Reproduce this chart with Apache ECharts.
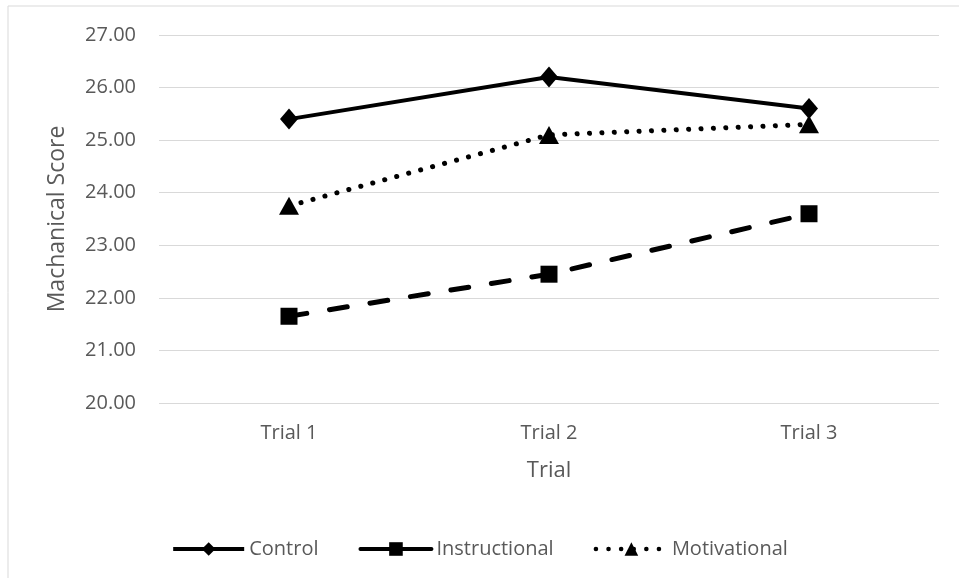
<!DOCTYPE html>
<html>
<head>
<meta charset="utf-8">
<script src="https://cdn.jsdelivr.net/npm/echarts@6/dist/echarts.min.js"></script>
<style>
  html, body { margin: 0; padding: 0; background: #fff; }
  #chart { width: 959px; height: 578px; }
</style>
</head>
<body>
<div id="chart"></div>
<script>
// data
const trials = ["Trial 1", "Trial 2", "Trial 3"];
const control = [25.4, 26.2, 25.6];
const instructional = [21.65, 22.45, 23.6];
const motivational = [23.75, 25.1, 25.3];

const txt = "#595959";
const font = "Open Sans";

const chart = echarts.init(document.getElementById("chart"));

const option = {
  animation: false,
  backgroundColor: "#fff",
  textStyle: { fontFamily: font, color: txt },
  graphic: [
    {
      type: "rect",
      shape: { x: 8, y: 6, width: 1000, height: 1000 },
      style: { fill: "none", stroke: "#d9d9d9", lineWidth: 1 },
      silent: true
    }
  ],
  grid: { left: 159, right: 20, top: 35, bottom: 175 },
  legend: {
    left: "center",
    top: 534,
    itemWidth: 71,
    itemHeight: 17,
    itemGap: 40,
    textStyle: { fontFamily: font, fontSize: 20, color: txt },
    lineStyle: { width: 4 },
    data: [
      { name: "Control", lineStyle: { type: "solid" } },
      { name: "Instructional", lineStyle: { type: "solid" } },
      { name: "Motivational", lineStyle: { type: [0.1, 12.5], cap: "round", width: 4.5 } }
    ]
  },
  xAxis: {
    type: "category",
    data: trials,
    boundaryGap: true,
    name: "Trial",
    nameLocation: "middle",
    nameGap: 57,
    nameTextStyle: { fontFamily: font, fontSize: 22, color: txt },
    axisLine: { show: false },
    axisTick: { show: false },
    axisLabel: { margin: 20, fontFamily: font, fontSize: 20, color: txt }
  },
  yAxis: {
    type: "value",
    min: 20,
    max: 27,
    interval: 1,
    name: "Machanical Score",
    nameLocation: "middle",
    nameGap: 90,
    nameTextStyle: { fontFamily: font, fontSize: 23, color: txt },
    axisLine: { show: false },
    axisTick: { show: false },
    axisLabel: {
      margin: 23,
      fontFamily: font,
      fontSize: 20,
      color: txt,
      formatter: v => v.toFixed(2)
    },
    splitLine: { lineStyle: { color: "#d9d9d9", width: 1.2 } }
  },
  series: [
    {
      name: "Control",
      type: "line",
      data: control,
      symbol: "diamond",
      symbolSize: [18, 21],
      itemStyle: { color: "#000" },
      lineStyle: { color: "#000", width: 4 },
      z: 4
    },
    {
      name: "Instructional",
      type: "line",
      data: instructional,
      symbol: "rect",
      symbolSize: 17,
      itemStyle: { color: "#000" },
      lineStyle: { color: "#000", width: 5, type: [18, 23], cap: "round" },
      z: 3
    },
    {
      name: "Motivational",
      type: "line",
      data: motivational,
      symbol: "triangle",
      symbolSize: [20, 18],
      itemStyle: { color: "#000" },
      lineStyle: { color: "#000", width: 5, type: [0.1, 12.3], cap: "round" },
      z: 2
    }
  ]
};

chart.setOption(option);
window.addEventListener("resize", () => chart.resize());
</script>
</body>
</html>
